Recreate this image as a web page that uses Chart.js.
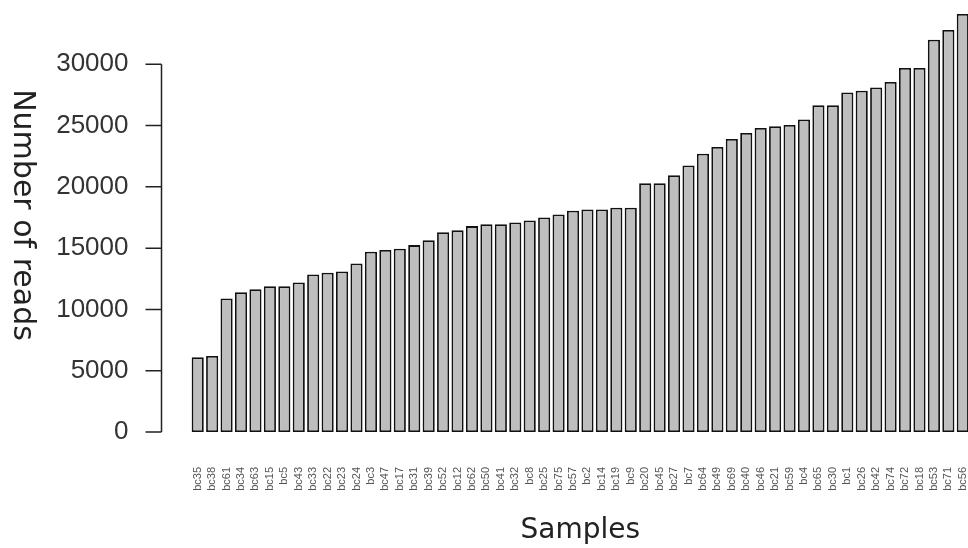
<!DOCTYPE html>
<html>
<head>
<meta charset="utf-8">
<script src="https://cdn.jsdelivr.net/npm/chart.js@4/dist/chart.umd.min.js"></script>
<style>
  html, body { margin: 0; padding: 0; background: #fff; overflow: hidden; }
  #wrap { width: 970px; height: 548px; position: relative; }
</style>
</head>
<body>
<div id="wrap"><canvas id="grafico"></canvas></div>
<script>
const samples = ['bc35','bc38','bc61','bc34','bc63','bc15','bc5','bc43','bc33','bc22','bc23','bc24',
    'bc3','bc47','bc17','bc31','bc39','bc52','bc12','bc62','bc50','bc41','bc32','bc8','bc25','bc75','bc57',
    'bc2','bc14','bc19','bc9','bc20','bc45','bc27','bc7','bc64','bc49','bc69','bc40','bc46','bc21','bc59',
    'bc4','bc65','bc30','bc1','bc26','bc42','bc74','bc72','bc18','bc53','bc71','bc56'];
const reads = [6100, 6200, 10900, 11400, 11650, 11900, 11900, 12200, 12850, 13000, 13100, 13750,
    14700, 14850, 14950, 15250, 15650, 16300, 16450, 16800, 16950, 16950, 17100, 17250, 17500, 17750, 18050,
    18150, 18150, 18300, 18300, 20300, 20300, 20950, 21750, 22700, 23250, 23900, 24400, 24800, 24950, 25050,
    25500, 26650, 26650, 27700, 27850, 28100, 28550, 29700, 29700, 32000, 32800, 34100];
const yTicks = [0, 5000, 10000, 15000, 20000, 25000, 30000];
const yTitle = 'Number of reads';
const xTitle = 'Samples';

// eje Y estilo R: linea solo entre el primer y ultimo tick, titulo girado a la derecha
const ejeR = {
    id: 'ejeR',
    afterDraw(chart) {
        const ctx = chart.ctx;
        const y = chart.scales.y;
        const x0 = chart.chartArea.left - 29;
        ctx.save();
        ctx.strokeStyle = '#222';
        ctx.lineWidth = 1.5;
        ctx.beginPath();
        ctx.moveTo(x0, y.getPixelForValue(yTicks[0]));
        ctx.lineTo(x0, y.getPixelForValue(yTicks[yTicks.length - 1]));
        for (const v of yTicks) {
            const py = y.getPixelForValue(v);
            ctx.moveTo(x0, py);
            ctx.lineTo(x0 - 16, py);
        }
        ctx.stroke();
        ctx.translate(22, 215);
        ctx.rotate(Math.PI / 2);
        ctx.fillStyle = '#222';
        ctx.font = '30px "DejaVu Sans"';
        ctx.textAlign = 'center';
        ctx.textBaseline = 'middle';
        ctx.fillText(yTitle, 0, 0);
        ctx.restore();
    }
};

new Chart(document.getElementById('grafico'), {
    type: 'bar',
    data: {
        labels: samples,
        datasets: [{
            data: reads,
            backgroundColor: '#bebebe',
            borderColor: '#111',
            borderWidth: 1.8,
            borderSkipped: false,
            barPercentage: 0.84,
            categoryPercentage: 1
        }]
    },
    options: {
        responsive: true,
        maintainAspectRatio: false,
        animation: false,
        layout: { padding: { top: 3, left: 0, right: 0, bottom: 0 } },
        plugins: { legend: { display: false }, tooltip: { enabled: false } },
        scales: {
            x: {
                grid: { display: false, drawTicks: false },
                border: { display: false },
                ticks: {
                    autoSkip: false,
                    minRotation: 90,
                    maxRotation: 90,
                    padding: 35,
                    color: '#555',
                    font: { family: 'Liberation Sans', size: 11 }
                },
                title: {
                    display: true,
                    text: xTitle,
                    color: '#222',
                    padding: 0,
                    font: { family: 'DejaVu Sans', size: 28, lineHeight: 1.2 }
                },
                afterFit(scale) {
                    scale.height = 116;
                    scale.paddingLeft = 0;
                    scale.paddingRight = 0;
                }
            },
            y: {
                min: 0,
                max: 35000,
                grid: { display: false, drawTicks: false },
                border: { display: false },
                ticks: {
                    padding: 62,
                    color: '#333',
                    font: { family: 'Liberation Sans', size: 26 },
                    callback: v => String(v)
                },
                afterBuildTicks(scale) { scale.ticks = yTicks.map(v => ({ value: v })); },
                afterFit(scale) {
                    scale.width = 190.5;
                    scale.paddingTop = 0;
                    scale.paddingBottom = 0;
                }
            }
        }
    },
    plugins: [ejeR]
});
</script>
</body>
</html>
